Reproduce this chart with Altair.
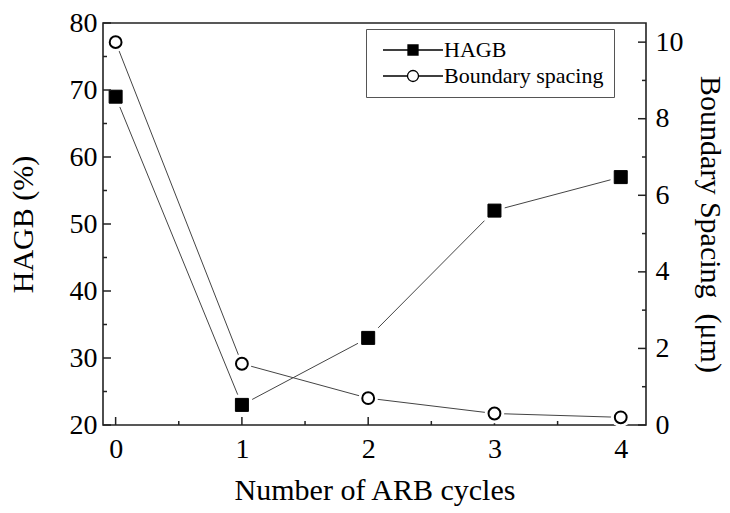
import altair as alt
import pandas as pd

# ---- data -------------------------------------------------------------
cycles = [0, 1, 2, 3, 4]
hagb_pct = [69, 23, 33, 52, 57]
spacing_um = [10.0, 1.6, 0.7, 0.3, 0.2]
series_names = ["HAGB", "Boundary spacing"]

# axis tick values
x_major = [0, 1, 2, 3, 4]
x_minor = [0.5, 1.5, 2.5, 3.5]
left_major = [20, 30, 40, 50, 60, 70, 80]
left_minor = [25, 35, 45, 55, 65, 75]
right_major = [0, 2, 4, 6, 8, 10]
right_minor = [1, 3, 5, 7, 9]

# ---- layout / style ---------------------------------------------------
W, H = 543, 402
FONT = "Liberation Serif"
INK = "#222222"
LINE = "#444444"

hagb_df = pd.DataFrame({"cycles": cycles, "value": hagb_pct, "series": series_names[0]})
spacing_df = pd.DataFrame({"cycles": cycles, "value": spacing_um, "series": series_names[1]})
legend_df = pd.DataFrame({"series": series_names})

x_scale = alt.Scale(domain=[-0.1, 4.2], nice=False, zero=False)
left_scale = alt.Scale(domain=[20, 80], nice=False, zero=False)
right_scale = alt.Scale(domain=[0, 10.5], nice=False, zero=False)
fill_scale = alt.Scale(domain=series_names, range=["black", "white"])
stroke_scale = alt.Scale(domain=series_names, range=["black", "black"])

label_style = dict(labelFont=FONT, labelFontSize=28, labelColor="black",
                   titleFont=FONT, titleFontSize=30, titleFontWeight="normal",
                   titleColor="black", ticks=False, domain=False, grid=False)

x_axis = alt.Axis(values=x_major, format="d", title="Number of ARB cycles",
                  labelPadding=10, titlePadding=12, **label_style)
left_axis = alt.Axis(values=left_major, format="d", title="HAGB (%)",
                     labelPadding=6, titlePadding=31, **label_style)
right_axis = alt.Axis(values=right_major, format="d", orient="right",
                      title="Boundary Spacing\u00a0 (\u03bcm)",
                      labelPadding=9, titlePadding=11, **label_style)

# legend symbols: a short line through the marker
SQ_PATH = "M-6,0H-1M1,0H6M-1,-1H1V1H-1Z"
CIRC_PATH = ("M-6,0H-1.1M1.1,0H6M1.1,0A1.1,1.1,0,1,1,-1.1,0"
             "A1.1,1.1,0,1,1,1.1,0Z")
shape_scale = alt.Scale(domain=series_names, range=[SQ_PATH, CIRC_PATH])

legend = alt.Legend(
    title=None, orient="none", legendX=366 - 103, legendY=29 - 23,
    strokeColor="#555555", fillColor="white", padding=10,
    labelFont=FONT, labelFontSize=22, labelColor="black",
    symbolSize=100, symbolStrokeWidth=1.3,
    symbolOpacity=1, symbolOffset=26, labelOffset=20, rowPadding=4,
)


def ypos(scale, axis=None):
    if axis is None:
        return alt.Y("value:Q", scale=scale)
    return alt.Y("value:Q", scale=scale, axis=axis)


def xpos(axis=None):
    if axis is None:
        return alt.X("cycles:Q", scale=x_scale)
    return alt.X("cycles:Q", scale=x_scale, axis=axis)


def tick_rules(values, scale, side, length):
    df = pd.DataFrame({"v": values})
    mark = alt.Chart(df).mark_rule(color=INK, strokeWidth=1.5)
    if side == "left":
        return mark.encode(y=alt.Y("v:Q", scale=scale),
                           x=alt.value(0), x2=alt.value(length))
    if side == "right":
        return mark.encode(y=alt.Y("v:Q", scale=scale),
                           x=alt.value(W - length), x2=alt.value(W))
    return mark.encode(x=alt.X("v:Q", scale=scale),
                       y=alt.value(H - length), y2=alt.value(H))


def series_layers(df, yscale, yaxis, xaxis, shape, fill, mark_size, halo_size, stroke_w):
    line = alt.Chart(df).mark_line(color=LINE, strokeWidth=1).encode(
        x=xpos(xaxis), y=ypos(yscale, yaxis),
    )
    halo = alt.Chart(df).mark_point(
        shape=shape, filled=True, fill="white", size=halo_size,
        opacity=1, strokeWidth=0,
    ).encode(x=xpos(), y=ypos(yscale))
    pts = alt.Chart(df).mark_point(
        shape=shape, filled=True, fill=fill, size=mark_size, opacity=1,
        stroke="black", strokeWidth=stroke_w,
    ).encode(x=xpos(), y=ypos(yscale))
    return [line, halo, pts]


left_group = alt.layer(
    *series_layers(hagb_df, left_scale, left_axis, x_axis, "square", "black", 169, 420, 1),
    tick_rules(left_major, left_scale, "left", 8),
    tick_rules(left_minor, left_scale, "left", 4),
    tick_rules(x_major, x_scale, "bottom", 8),
    tick_rules(x_minor, x_scale, "bottom", 4),
)

right_group = alt.layer(
    *series_layers(spacing_df, right_scale, right_axis, None, "circle", "white", 140, 380, 2),
    tick_rules(right_major, right_scale, "right", 8),
    tick_rules(right_minor, right_scale, "right", 4),
)

# invisible layer that only carries the legend entries
legend_layer = alt.Chart(legend_df).mark_point(
    filled=True, opacity=0, strokeWidth=1.3, size=100,
).encode(
    x=alt.value(0), y=alt.value(0),
    shape=alt.Shape("series:N", scale=shape_scale, legend=legend),
    fill=alt.Fill("series:N", scale=fill_scale, legend=legend),
    stroke=alt.Stroke("series:N", scale=stroke_scale, legend=legend),
)

chart = (
    alt.layer(left_group, right_group, legend_layer)
    .resolve_scale(y="independent")
    .properties(
        width=W, height=H,
        padding={"left": 103, "top": 23, "right": 730 - 103 - W, "bottom": 513 - 23 - H},
        autosize=alt.AutoSizeParams(type="none"),
        background="white",
    )
    .configure(font=FONT)
    .configure_axis(labelFont=FONT, titleFont=FONT)
    .configure_view(stroke=INK, strokeWidth=1.6)
    .configure_legend(strokeWidth=1, labelFont=FONT)
)

chart.save("out.html", embed_options={"renderer": "svg", "actions": False})
